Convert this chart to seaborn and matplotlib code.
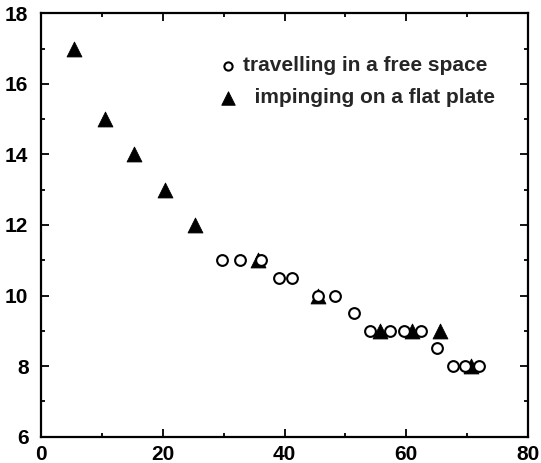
import matplotlib
matplotlib.use("Agg")
import matplotlib.pyplot as plt
import seaborn as sns
import pandas as pd
from matplotlib.ticker import MultipleLocator

free_x = [29.8, 32.7, 36.2, 39.1, 41.3, 45.5, 48.3, 51.4, 54.1, 57.3, 59.6, 62.5, 65.1, 67.6, 69.6, 72.0]
free_y = [11, 11, 11, 10.5, 10.5, 10, 10, 9.5, 9, 9, 9, 9, 8.5, 8, 8, 8]
plate_x = [5.4, 10.5, 15.3, 20.4, 25.3, 35.7, 45.5, 55.7, 60.9, 65.5, 70.7]
plate_y = [17, 15, 14, 13, 12, 11, 10, 9, 9, 9, 8]
labels = ["travelling in a free space", "  impinging on a flat plate"]

sns.set_style("ticks")
plt.rcParams['font.family'] = ['Liberation Sans', 'DejaVu Sans']
plt.rcParams['font.weight'] = 'bold'

fig = plt.figure(figsize=(5.41, 4.63), dpi=100)
ax = fig.add_axes([41/541, 26.3/463, 487/541, 423.4/463])

free = pd.DataFrame({"x": free_x, "y": free_y})
plate = pd.DataFrame({"x": plate_x, "y": plate_y})

sns.scatterplot(data=plate, x="x", y="y", marker="^", s=115, color="black",
                edgecolor="black", linewidth=0.6, ax=ax, zorder=2, label=labels[1])
sns.scatterplot(data=free, x="x", y="y", marker="o", s=60, facecolor="white",
                edgecolor="black", linewidth=1.5, ax=ax, zorder=3, label=labels[0])

ax.set_xlim(0, 80)
ax.set_ylim(6, 18)
ax.xaxis.set_major_locator(MultipleLocator(20))
ax.xaxis.set_minor_locator(MultipleLocator(10))
ax.yaxis.set_major_locator(MultipleLocator(2))
ax.yaxis.set_minor_locator(MultipleLocator(1))
ax.tick_params(which="both", direction="in", top=True, right=True, width=1.3,
               labelsize=15, colors="black")
ax.tick_params(which="major", length=6)
ax.tick_params(which="minor", length=3)
ax.tick_params(axis="x", pad=6)
ax.tick_params(axis="y", pad=9)
ax.set_xlabel("")
ax.set_ylabel("")
for sp in ax.spines.values():
    sp.set_linewidth(1.6)
    sp.set_color("black")

h, l = ax.get_legend_handles_labels()
leg = ax.legend([h[1], h[0]], [l[1], l[0]], loc="upper left", bbox_to_anchor=(0.3626, 0.898),
                frameon=False, prop={"size": 15, "weight": "bold"}, handlelength=1.0,
                handletextpad=0.2, labelspacing=0.6, borderpad=0, borderaxespad=0)
leg.legend_handles[0].set_sizes([35])
leg.legend_handles[1].set_sizes([95])

fig.savefig("out.png", dpi=100)
